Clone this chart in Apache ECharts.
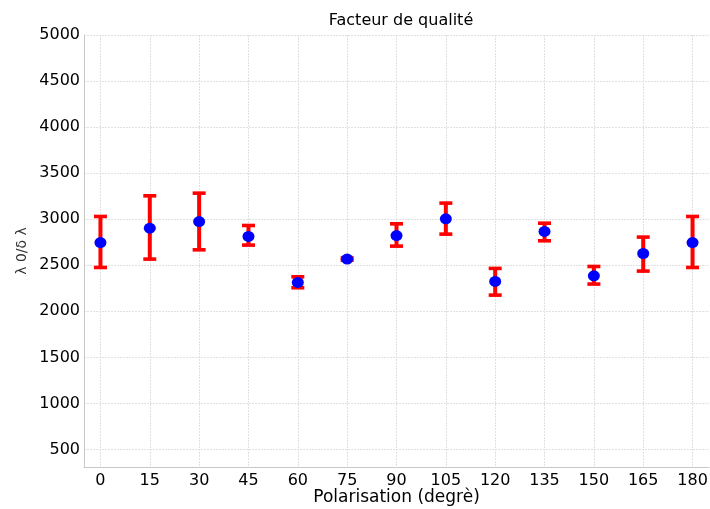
<!DOCTYPE html>
<html><head><meta charset="utf-8">
<script src="https://cdn.jsdelivr.net/npm/echarts@6/dist/echarts.min.js"></script>
<style>html,body{margin:0;padding:0;background:#fff}#c{width:710px;height:509px}</style>
</head><body><div id="c"></div>
<script>
const polarisation = [0, 15, 30, 45, 60, 75, 90, 105, 120, 135, 150, 165, 180];
const qualite = [2747, 2903, 2975, 2813, 2314, 2567, 2823, 3004, 2325, 2867, 2386, 2628, 2747];
const errHigh = [3030, 3254, 3283, 2932, 2375, 2580, 2950, 3175, 2466, 2957, 2487, 2806, 3030];
const errLow = [2476, 2567, 2668, 2719, 2256, 2555, 2708, 2838, 2176, 2766, 2296, 2437, 2476];
const xTicks = [0, 15, 30, 45, 60, 75, 90, 105, 120, 135, 150, 165, 180];
const yTicks = [500, 1000, 1500, 2000, 2500, 3000, 3500, 4000, 4500, 5000];

const chart = echarts.init(document.getElementById('c'));
const font = 'DejaVu Sans, sans-serif';
chart.setOption({
  animation: false,
  title: {text: 'Facteur de qualité', left: 396, top: 8, textAlign: 'center',
    textStyle: {fontFamily: font, fontSize: 16, fontWeight: 'normal', color: '#000'}},
  grid: {left: 84, right: 1, top: 35, bottom: 42, outerBoundsMode: 'none', containLabel: false},
  xAxis: {
    type: 'value', min: -5, max: 185,
    name: 'Polarisation (degrè)', nameLocation: 'middle', nameGap: 22, nameMoveOverlap: false,
    nameTextStyle: {fontFamily: font, fontSize: 17, color: '#000'},
    axisLine: {show: true, onZero: false, lineStyle: {color: '#c8c8c8'}},
    axisTick: {show: false, customValues: xTicks},
    axisLabel: {customValues: xTicks, fontFamily: font, fontSize: 16, color: '#000', margin: 6,
      formatter: v => String(v)},
    splitLine: {show: true, lineStyle: {color: '#e0e0e0', type: [2, 1]}}
  },
  yAxis: {
    type: 'value', min: 310, max: 5000,
    name: 'λ 0/δ λ', nameLocation: 'middle', nameGap: 55, nameRotate: 90, nameMoveOverlap: false,
    nameTextStyle: {fontFamily: font, fontSize: 14, color: '#333'},
    axisLine: {show: true, onZero: false, lineStyle: {color: '#c8c8c8'}},
    axisTick: {show: false, customValues: yTicks},
    axisLabel: {customValues: yTicks, fontFamily: font, fontSize: 16, color: '#000', margin: 4,
      formatter: v => String(v)},
    splitLine: {show: true, lineStyle: {color: '#e0e0e0', type: [2, 1]}}
  },
  series: [
    {
      type: 'custom',
      data: polarisation.map((p, i) => [p, errLow[i], errHigh[i]]),
      renderItem: function (params, api) {
        const x = api.value(0);
        const lo = api.coord([x, api.value(1)]);
        const hi = api.coord([x, api.value(2)]);
        const hw = 6.5;
        const st = {stroke: '#ff0000', lineWidth: 4};
        const cap = {stroke: '#ff0000', lineWidth: 3.6};
        return {type: 'group', children: [
          {type: 'line', shape: {x1: lo[0], y1: lo[1], x2: hi[0], y2: hi[1]}, style: st},
          {type: 'line', shape: {x1: lo[0] - hw, y1: lo[1], x2: lo[0] + hw, y2: lo[1]}, style: cap},
          {type: 'line', shape: {x1: hi[0] - hw, y1: hi[1], x2: hi[0] + hw, y2: hi[1]}, style: cap}
        ]};
      },
      z: 2
    },
    {
      type: 'scatter',
      data: polarisation.map((p, i) => [p, qualite[i]]),
      symbolSize: [12, 11],
      itemStyle: {color: '#0000ff', opacity: 1},
      z: 3
    }
  ]
});
</script></body></html>
